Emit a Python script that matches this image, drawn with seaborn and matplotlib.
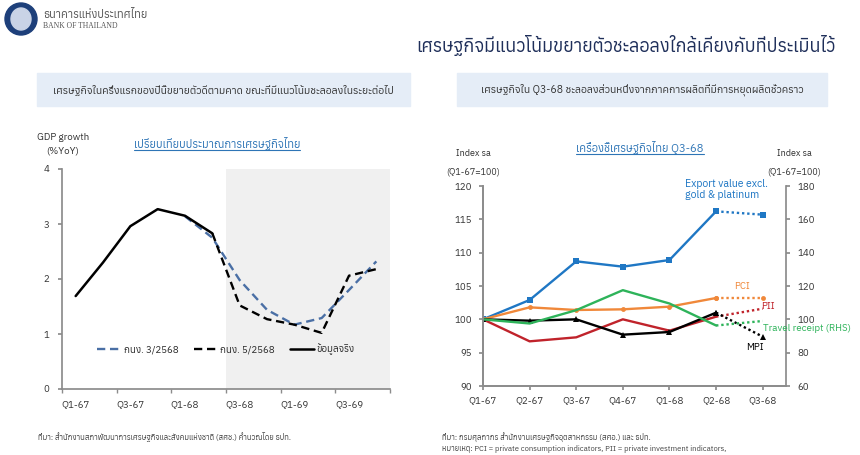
import numpy as np
import pandas as pd
import matplotlib
matplotlib.use("Agg")
import matplotlib.pyplot as plt
import matplotlib.font_manager as fm
from matplotlib import ft2font
from matplotlib.patches import Rectangle, Ellipse
from matplotlib.lines import Line2D
import seaborn as sns

# ---- data: left chart (GDP growth, %YoY) ----
gdp_quarters = ['Q1-67', 'Q2-67', 'Q3-67', 'Q4-67', 'Q1-68', 'Q2-68',
                'Q3-68', 'Q4-68', 'Q1-69', 'Q2-69', 'Q3-69', 'Q4-69']
gdp_tick_labels = ['Q1-67', 'Q3-67', 'Q1-68', 'Q3-68', 'Q1-69', 'Q3-69']
gdp_actual = [1.69, 2.30, 2.96, 3.27, 3.15, 2.83]
gdp_mpc3 = [np.nan, np.nan, np.nan, np.nan, 3.14, 2.75, 1.98, 1.44, 1.17, 1.29, 1.80, 2.32]
gdp_mpc5 = [np.nan, np.nan, np.nan, np.nan, np.nan, 2.83, 1.52, 1.27, 1.17, 1.02, 2.06, 2.18]

# ---- data: right chart (indicators, index sa Q1-67=100) ----
ind_quarters = ['Q1-67', 'Q2-67', 'Q3-67', 'Q4-67', 'Q1-68', 'Q2-68', 'Q3-68']
export_idx = [100.0, 102.9, 108.7, 107.9, 108.9, 116.2, 115.7]
pci_idx = [100.0, 101.8, 101.4, 101.5, 101.9, 103.2, 103.2]
pii_idx = [100.0, 96.7, 97.3, 100.0, 98.3, 100.4, 101.6]
mpi_idx = [100.0, 99.8, 100.0, 97.7, 98.1, 101.0, 97.4]
travel_idx = [100.0, 97.5, 105.5, 117.5, 109.5, 96.3, 99.0]  # RHS

# find a font that has Thai glyphs, if any
thai_fams = []
for f in fm.fontManager.ttflist:
    try:
        if 0x0E01 in ft2font.FT2Font(f.fname).get_charmap():
            thai_fams.append(f.name)
    except Exception:
        pass
thai_fams = sorted(set(thai_fams))

sns.set_theme(style="white")
plt.rcParams['font.family'] = thai_fams[:1] + ['DejaVu Sans']
plt.rcParams['axes.edgecolor'] = '#8c8c8c'
plt.rcParams['xtick.color'] = '#8c8c8c'
plt.rcParams['ytick.color'] = '#8c8c8c'
plt.rcParams['xtick.labelcolor'] = '#333333'
plt.rcParams['ytick.labelcolor'] = '#333333'

W, H = 860, 455
fig = plt.figure(figsize=(W / 100, H / 100), dpi=100)

def fx(px):
    return px / W

def fy(py):
    return 1 - py / H

# ---- header ----
fig.add_artist(Ellipse((fx(21), fy(19)), 32 / W, 32 / H, color='#1d3f7a', transform=fig.transFigure))
fig.add_artist(Ellipse((fx(21), fy(19)), 20 / W, 22 / H, color='#c9d3e6', transform=fig.transFigure))
fig.text(fx(43), fy(14), 'ธนาคารแห่งประเทศไทย', fontsize=8, color='#555555', va='center')
fig.text(fx(43), fy(26), 'BANK OF THAILAND', fontsize=5.5, color='#555555', va='center',
         family=['Liberation Serif', 'DejaVu Serif'])
fig.text(fx(835), fy(45), 'เศรษฐกิจมีแนวโน้มขยายตัวชะลอลงใกล้เคียงกับที่ประเมินไว้',
         fontsize=13, color='#1f2f5a', ha='right', va='center')

# subtitle boxes
for x0, x1, txt in [(37, 410, 'เศรษฐกิจในครึ่งแรกของปีนี้ขยายตัวดีตามคาด ขณะที่มีแนวโน้มชะลอลงในระยะต่อไป'),
                    (457, 827, 'เศรษฐกิจใน Q3-68 ชะลอลงส่วนหนึ่งจากภาคการผลิตที่มีการหยุดผลิตชั่วคราว')]:
    fig.add_artist(Rectangle((fx(x0), fy(106)), (x1 - x0) / W, 33 / H, color='#e5edf7',
                             transform=fig.transFigure, zorder=0))
    fig.text(fx((x0 + x1) / 2), fy(90), txt, fontsize=7.5, color='#333333', ha='center', va='center')

# ---- left chart ----
ax1 = fig.add_axes([fx(62), fy(389), (390 - 62) / W, (389 - 169) / H])
x_pos = np.arange(len(gdp_quarters))
ax1.axvspan(5.5, 11.5, color='#f0f0f0', zorder=0, lw=0)

df_act = pd.DataFrame({'x': x_pos[:len(gdp_actual)], 'y': gdp_actual})
df_m3 = pd.DataFrame({'x': x_pos, 'y': gdp_mpc3}).dropna()
df_m5 = pd.DataFrame({'x': x_pos, 'y': gdp_mpc5}).dropna()
sns.lineplot(data=df_m3, x='x', y='y', ax=ax1, color='#4a6fa5', lw=1.7,
             linestyle=(0, (3.5, 2)), label='กนง. 3/2568')
sns.lineplot(data=df_m5, x='x', y='y', ax=ax1, color='black', lw=1.7,
             linestyle=(0, (3.5, 2)), label='กนง. 5/2568')
sns.lineplot(data=df_act, x='x', y='y', ax=ax1, color='black', lw=1.8, label='ข้อมูลจริง')

ax1.set_xlim(-0.5, 11.5)
ax1.set_ylim(0, 4)
ax1.set_yticks([0, 1, 2, 3, 4])
ax1.set_xticks(np.arange(0, 12, 2))
ax1.set_xticklabels(gdp_tick_labels)
ax1.set_xticks(np.arange(-0.5, 12, 2), minor=True)
ax1.tick_params(axis='x', which='major', length=0, labelsize=7, pad=8)
ax1.tick_params(axis='x', which='minor', length=3, direction='out', bottom=True)
ax1.tick_params(axis='y', length=3, direction='out', left=True, labelsize=7, pad=6)
ax1.set_xlabel('')
ax1.set_ylabel('')
for s in ['top', 'right']:
    ax1.spines[s].set_visible(False)
ax1.legend(loc='center', bbox_to_anchor=(0.50, 0.18), ncol=3, frameon=False,
           fontsize=7, handlelength=2.4, columnspacing=1.6, handletextpad=0.3)

fig.text(fx(63), fy(137), 'GDP growth', fontsize=7, color='#333333', ha='center', va='center')
fig.text(fx(63), fy(151), '(%YoY)', fontsize=7, color='#333333', ha='center', va='center')
t1 = fig.text(fx(217), fy(143), 'เปรียบเทียบประมาณการเศรษฐกิจไทย', fontsize=8,
              color='#2e75b6', ha='center', va='center')

# ---- right chart ----
ax2 = fig.add_axes([fx(483), fy(386), (786 - 483) / W, (386 - 186) / H])
ax3 = ax2.twinx()
xi = np.arange(len(ind_quarters))

series_left = [
    (export_idx, '#1f77c4', 's', 4),
    (pci_idx, '#f0883a', 'o', 3.5),
    (pii_idx, '#c0232b', None, 0),
    (mpi_idx, 'black', '^', 4),
]
for vals, col, mk, ms in series_left:
    df_solid = pd.DataFrame({'x': xi[:6], 'y': vals[:6]})
    df_dot = pd.DataFrame({'x': xi[5:], 'y': vals[5:]})
    sns.lineplot(data=df_solid, x='x', y='y', ax=ax2, color=col, lw=1.7,
                 marker=mk, markersize=ms, markeredgewidth=0)
    sns.lineplot(data=df_dot, x='x', y='y', ax=ax2, color=col, lw=1.7,
                 linestyle=(0, (1, 1.2)), marker=mk, markersize=ms, markeredgewidth=0)

df_tr = pd.DataFrame({'x': xi[:6], 'y': travel_idx[:6]})
df_tr_dot = pd.DataFrame({'x': xi[5:], 'y': travel_idx[5:]})
sns.lineplot(data=df_tr, x='x', y='y', ax=ax3, color='#2eb35a', lw=1.7)
sns.lineplot(data=df_tr_dot, x='x', y='y', ax=ax3, color='#2eb35a', lw=1.7, linestyle=(0, (1, 1.2)))

ax2.set_xlim(0, 6.5)
ax2.set_ylim(90, 120)
ax2.set_yticks(np.arange(90, 121, 5))
ax3.set_ylim(60, 180)
ax3.set_yticks(np.arange(60, 181, 20))
ax2.set_xticks(xi)
ax2.set_xticklabels(ind_quarters)
ax2.tick_params(axis='x', length=3, direction='out', bottom=True, labelsize=7, pad=4)
ax2.tick_params(axis='y', length=3, direction='out', left=True, labelsize=7, pad=5)
ax3.tick_params(axis='y', length=3, direction='out', right=True, labelsize=7, pad=5)
for a in (ax2, ax3):
    a.set_xlabel('')
    a.set_ylabel('')
    a.spines['top'].set_visible(False)
ax2.spines['right'].set_visible(False)

ax3.text(4.33, 178.0, 'Export value excl.\ngold & platinum', color='#1f77c4', fontsize=7.5,
         ha='left', va='center', linespacing=1.1)
ax3.text(5.56, 119.5, 'PCI', color='#f0883a', fontsize=7, ha='center', va='center')
ax3.text(6.12, 107.5, 'PII', color='#c0232b', fontsize=7, ha='center', va='center')
ax3.text(6.01, 94.6, 'Travel receipt (RHS)', color='#2eb35a', fontsize=7, ha='left', va='center',
         clip_on=False)
ax3.text(5.84, 82.8, 'MPI', color='black', fontsize=7, ha='center', va='center')

for px, txt in [(473, 'Index sa'), (473, '(Q1-67=100)'), (794, 'Index sa'), (794, '(Q1-67=100)')]:
    py = 154 if txt == 'Index sa' else 172
    fig.text(fx(px), fy(py), txt, fontsize=6.5, color='#333333', ha='center', va='center')
t2 = fig.text(fx(640), fy(147), 'เครื่องชี้เศรษฐกิจไทย Q3-68', fontsize=8,
              color='#2e75b6', ha='center', va='center')

# ---- footnotes ----
fig.text(fx(38), fy(437), 'ที่มา: สำนักงานสภาพัฒนาการเศรษฐกิจและสังคมแห่งชาติ (สศช.) คำนวณโดย ธปท.',
         fontsize=5.5, color='#444444', va='center')
fig.text(fx(442), fy(437), 'ที่มา: กรมศุลกากร สำนักงานเศรษฐกิจอุตสาหกรรม (สศอ.) และ ธปท.',
         fontsize=5.5, color='#444444', va='center')
fig.text(fx(442), fy(449), 'หมายเหตุ: PCI = private consumption indicators, PII = private investment indicators,',
         fontsize=5.5, color='#444444', va='center')

# underline the two chart titles
fig.canvas.draw()
for t in (t1, t2):
    bb = t.get_window_extent()
    fig.add_artist(Line2D([bb.x0, bb.x1], [bb.y0, bb.y0], transform=None,
                          color='#2e75b6', lw=0.8))

fig.savefig('out.png', dpi=100)
